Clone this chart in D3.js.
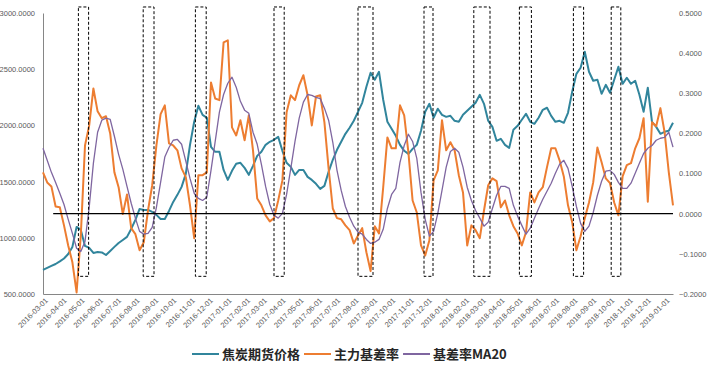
<!DOCTYPE html>
<html>
<head>
<meta charset="utf-8">
<script src="https://cdnjs.cloudflare.com/ajax/libs/d3/7.8.5/d3.min.js"></script>
<style>
	body { margin: 0; background: #fff; }
	svg text { font-family: "Liberation Sans", Arial, sans-serif; }
	.tick_label { font-size: 7.5px; fill: #595959; }
	.legend text { font-family: "Noto Sans CJK SC", sans-serif; font-weight: bold; font-size: 13px; fill: #262626; }
</style>
</head>
<body>
<svg id="chart" width="713" height="365"></svg>
<script>
// weekly readings, first one on 2016-03-01
var startDate = new Date(2016, 2, 1);
var weekCount = 151;

// 焦炭期货价格 (left axis)
var priceValues = [
	714, 732, 750, 767, 790, 816, 856, 919, 1097, 1070,
	928, 910, 865, 874, 870, 847, 883, 919, 954, 981,
	1008, 1079, 1159, 1257, 1248, 1248, 1230, 1204, 1168, 1168,
	1239, 1319, 1382, 1453, 1569, 1827, 2032, 2174, 2094, 2068,
	1809, 1765, 1765, 1604, 1515, 1596, 1658, 1667, 1622, 1560,
	1640, 1729, 1765, 1827, 1854, 1872, 1898, 1774, 1667, 1631,
	1560, 1604, 1604, 1542, 1515, 1480, 1435, 1462, 1587, 1694,
	1783, 1854, 1925, 1979, 2041, 2121, 2201, 2344, 2468, 2406,
	2477, 2228, 2032, 1970, 1907, 1827, 1774, 1747, 1791, 1827,
	1952, 2121, 2192, 2068, 2148, 2094, 2076, 2085, 2041, 2032,
	2094, 2130, 2166, 2201, 2272, 2192, 2041, 1987, 1863, 1881,
	1827, 1800, 1961, 1996, 2050, 2103, 2032, 2014, 2068, 2139,
	2157, 2085, 2032, 2041, 2023, 2112, 2299, 2459, 2513, 2655,
	2477, 2397, 2406, 2281, 2361, 2290, 2406, 2522, 2370, 2424,
	2370, 2397, 2272, 2121, 2335, 2032, 1987, 1925, 1943, 1952,
	2023
];

// 主力基差率 (right axis)
var basisValues = [
	0.103, 0.078, 0.068, 0.018, 0.016, -0.029, -0.079, -0.121, -0.196, -0.054,
	0.170, 0.220, 0.312, 0.255, 0.238, 0.243, 0.200, 0.103, 0.066, -0.001,
	0.048, -0.036, -0.051, -0.091, -0.071, 0.008, 0.071, 0.170, 0.248, 0.270,
	0.175, 0.170, 0.158, 0.113, 0.091, 0.021, -0.061, 0.096, 0.096, 0.103,
	0.327, 0.287, 0.283, 0.427, 0.432, 0.215, 0.195, 0.233, 0.183, 0.245,
	0.158, 0.038, 0.021, -0.004, -0.019, -0.011, 0.033, 0.083, 0.253, 0.295,
	0.283, 0.320, 0.345, 0.295, 0.220, 0.292, 0.295, 0.228, 0.113, 0.013,
	-0.011, -0.014, -0.029, -0.041, -0.074, -0.054, -0.036, -0.096, -0.143, -0.031,
	-0.049, 0.066, 0.190, 0.163, 0.163, 0.270, 0.245, 0.153, 0.033, 0.003,
	-0.079, -0.104, -0.066, 0.083, 0.108, 0.233, 0.158, 0.178, 0.158, 0.096,
	0.053, -0.079, -0.029, -0.041, -0.061, 0.008, 0.071, 0.088, 0.081, 0.016,
	0.033, -0.004, -0.031, -0.049, -0.079, -0.046, 0.053, 0.028, 0.053, 0.066,
	0.116, 0.163, 0.163, 0.133, 0.093, 0.021, -0.021, -0.091, -0.056, -0.011,
	0.028, 0.078, 0.165, 0.128, 0.088, 0.076, 0.028, -0.004, 0.093, 0.121,
	0.126, 0.163, 0.188, 0.238, 0.030, 0.228, 0.218, 0.263, 0.203, 0.103,
	0.021
];

// 基差率MA20 (right axis)
var basisMA20 = [
	0.163, 0.133, 0.103, 0.078, 0.051, 0.023, -0.014, -0.049, -0.086, -0.094,
	-0.069, 0.016, 0.126, 0.203, 0.233, 0.238, 0.235, 0.193, 0.148, 0.111,
	0.068, 0.026, -0.011, -0.044, -0.051, -0.049, -0.034, 0.016, 0.078, 0.141,
	0.165, 0.183, 0.185, 0.173, 0.131, 0.088, 0.051, 0.038, 0.033, 0.041,
	0.108, 0.180, 0.253, 0.297, 0.325, 0.340, 0.315, 0.280, 0.258, 0.250,
	0.203, 0.173, 0.123, 0.068, 0.023, -0.004, -0.011, 0.001, 0.048, 0.113,
	0.180, 0.238, 0.278, 0.297, 0.295, 0.290, 0.287, 0.263, 0.233, 0.178,
	0.108, 0.058, 0.018, -0.009, -0.031, -0.046, -0.051, -0.064, -0.074, -0.071,
	-0.064, -0.039, 0.013, 0.048, 0.063, 0.128, 0.170, 0.198, 0.180, 0.138,
	0.053, -0.014, -0.056, -0.044, 0.001, 0.058, 0.116, 0.155, 0.163, 0.153,
	0.116, 0.066, 0.033, 0.008, -0.011, -0.031, -0.021, 0.013, 0.046, 0.068,
	0.068, 0.063, 0.021, -0.006, -0.029, -0.051, -0.036, -0.011, 0.013, 0.036,
	0.056, 0.076, 0.101, 0.123, 0.133, 0.113, 0.068, 0.018, -0.024, -0.044,
	-0.031, 0.003, 0.046, 0.081, 0.106, 0.108, 0.098, 0.078, 0.063, 0.063,
	0.076, 0.101, 0.126, 0.150, 0.163, 0.170, 0.183, 0.188, 0.190, 0.203,
	0.166
];

var leftTicks = [500, 1000, 1500, 2000, 2500, 3000];
var rightTicks = [-0.2, -0.1, 0, 0.1, 0.2, 0.3, 0.4, 0.5];

// dashed highlight windows
var boxRanges = [
	["2016-04-29", "2016-05-16"],
	["2016-08-15", "2016-09-02"],
	["2016-11-10", "2016-11-28"],
	["2017-03-21", "2017-04-07"],
	["2017-08-08", "2017-09-02"],
	["2017-11-26", "2017-12-11"],
	["2018-02-17", "2018-03-16"],
	["2018-05-04", "2018-05-24"],
	["2018-08-02", "2018-08-19"],
	["2018-10-04", "2018-10-20"]
];
var boxTop = 0.515, boxBottom = -0.156;
var zeroLineStart = "2016-03-18";

var seriesNames = ["焦炭期货价格", "主力基差率", "基差率MA20"];
var seriesColors = ["#31859c", "#ed7d31", "#7f66a0"];
var seriesWidths = [2, 2, 1.3];

var margin = {top: 13, right: 40, bottom: 71, left: 43};
var width = 713 - margin.left - margin.right,
	height = 365 - margin.top - margin.bottom;

var parseDate = d3.timeParse("%Y-%m-%d");
var dates = d3.range(weekCount).map(function(i) { return d3.timeDay.offset(startDate, 7 * i); });

var x = d3.scaleTime().domain([dates[0], dates[dates.length - 1]]).range([0, width]);
var yLeft = d3.scaleLinear().domain([500, 3000]).range([height, 0]);
var yRight = d3.scaleLinear().domain([-0.2, 0.5]).range([height, 0]);

var svg = d3.select("#chart")
	.append("g")
	.attr("transform", "translate(" + margin.left + "," + margin.top + ")");

// Axes
var fmt = d3.format(".4f");
svg.append("g")
	.call(d3.axisLeft(yLeft).tickValues(leftTicks).tickFormat(fmt).tickSize(0).tickPadding(8))
	.call(function(g) {
		g.select(".domain").attr("stroke", "#868686");
		g.selectAll("text").attr("class", "tick_label").attr("font-family", null).attr("font-size", null);
	});

svg.append("g")
	.attr("transform", "translate(" + width + ",0)")
	.call(d3.axisRight(yRight).tickValues(rightTicks).tickFormat(fmt).tickSize(0).tickPadding(6))
	.call(function(g) {
		g.select(".domain").remove();
		g.selectAll("text").attr("class", "tick_label").attr("font-family", null).attr("font-size", null);
	});

var months = d3.timeMonth.range(startDate, new Date(2019, 0, 2));
var xAxis = svg.append("g")
	.attr("transform", "translate(0," + height + ")")
	.call(d3.axisBottom(x).tickValues(months).tickFormat(d3.timeFormat("%Y-%m-%d")).tickSize(0));
xAxis.select(".domain").attr("stroke", "#868686");
xAxis.selectAll("text")
	.attr("class", "tick_label")
	.attr("font-family", null).attr("font-size", null)
	.attr("text-anchor", "end")
	.attr("dy", null)
	.attr("y", 0)
	.attr("transform", "translate(5,7) rotate(-45)");

// Series
function drawSeries(values, scale, i) {
	var line = d3.line()
		.x(function(d, k) { return x(dates[k]); })
		.y(function(d) { return scale(d); });
	svg.append("path")
		.datum(values)
		.attr("fill", "none")
		.attr("stroke", seriesColors[i])
		.attr("stroke-width", seriesWidths[i])
		.attr("stroke-linejoin", "round")
		.attr("d", line);
}
drawSeries(priceValues, yLeft, 0);
drawSeries(basisValues, yRight, 1);
drawSeries(basisMA20, yRight, 2);

// Zero line
svg.append("line")
	.attr("x1", x(parseDate(zeroLineStart)))
	.attr("x2", width)
	.attr("y1", yRight(0))
	.attr("y2", yRight(0))
	.attr("stroke", "#000")
	.attr("stroke-width", 1.3);

// Dashed boxes
svg.selectAll(".box")
	.data(boxRanges)
	.enter().append("rect")
	.attr("class", "box")
	.attr("x", function(d) { return x(parseDate(d[0])); })
	.attr("width", function(d) { return x(parseDate(d[1])) - x(parseDate(d[0])); })
	.attr("y", yRight(boxTop))
	.attr("height", yRight(boxBottom) - yRight(boxTop))
	.attr("fill", "none")
	.attr("stroke", "#000")
	.attr("stroke-width", 1)
	.attr("stroke-dasharray", "3,2");

// Legend
var legend = d3.select("#chart").append("g")
	.attr("class", "legend")
	.attr("transform", "translate(192,354)");
var lx = 0;
seriesNames.forEach(function(name, i) {
	legend.append("line")
		.attr("x1", lx).attr("x2", lx + 27)
		.attr("y1", 0).attr("y2", 0)
		.attr("stroke", seriesColors[i])
		.attr("stroke-width", 2);
	var t = legend.append("text")
		.attr("x", lx + 30)
		.attr("y", 4.5)
		.text(name);
	lx += 30 + t.node().getComputedTextLength() + 4;
});
</script>
</body>
</html>
